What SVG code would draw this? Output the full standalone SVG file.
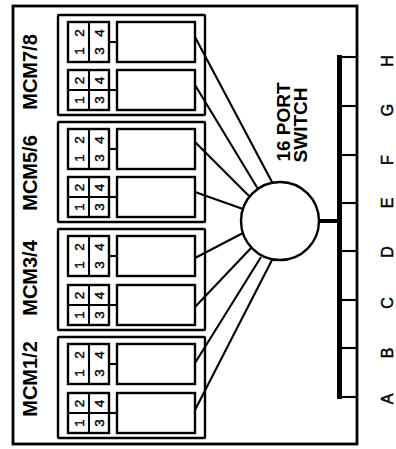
<svg xmlns="http://www.w3.org/2000/svg" width="396" height="449" viewBox="0 0 396 449">
<style>
.f{fill:none;stroke:#000;stroke-width:2.4}
.w{fill:#fff;stroke:#000;stroke-width:2.4}
.l{fill:none;stroke:#000;stroke-width:2.1}
.d{font-family:"Liberation Sans",Arial,sans-serif;font-size:13.5px;text-anchor:middle;fill:#000;stroke:#000;stroke-width:0.4}
.m{font-family:"Liberation Sans",Arial,sans-serif;font-size:20px;font-weight:bold;text-anchor:middle;fill:#000}
.s{font-family:"Liberation Sans",Arial,sans-serif;font-size:19px;font-weight:bold;text-anchor:middle;fill:#000}
.k{font-family:"Liberation Sans",Arial,sans-serif;font-size:16px;text-anchor:middle;fill:#000;stroke:#000;stroke-width:0.5}
</style>
<defs>
<g id="modA">
<rect class="w" x="68" y="0" width="41" height="40"/>
<line class="l" x1="89" y1="0" x2="89" y2="40"/>
<line class="l" x1="109" y1="20" x2="117" y2="20"/>
<rect class="w" x="117" y="0" width="78" height="40"/>
<text class="d" transform="translate(83.5,29) rotate(-90)">1</text>
<text class="d" transform="translate(83.5,11) rotate(-90)">2</text>
<text class="d" transform="translate(104,29) rotate(-90)">3</text>
<text class="d" transform="translate(104,11) rotate(-90)">4</text>
</g>
<g id="modB">
<rect class="w" x="68" y="0" width="41" height="40"/>
<line class="l" x1="89" y1="0" x2="89" y2="40"/>
<line class="l" x1="68" y1="20" x2="109" y2="20"/>
<line class="l" x1="109" y1="20" x2="117" y2="20"/>
<rect class="w" x="117" y="0" width="78" height="40"/>
<text class="d" transform="translate(83.5,30) rotate(-90)">1</text>
<text class="d" transform="translate(83.5,10.5) rotate(-90)">2</text>
<text class="d" transform="translate(104,30) rotate(-90)">3</text>
<text class="d" transform="translate(104,10.5) rotate(-90)">4</text>
</g>
</defs>
<rect x="0" y="0" width="396" height="449" fill="#fff"/>
<rect id="frame" x="13" y="6" width="344" height="438" fill="none" stroke="#000" stroke-width="2.8"/>

<g id="mcm78">
<rect class="f" x="58" y="15" width="147" height="100" rx="1"/>
<use href="#modA" y="22"/>
<use href="#modB" y="70"/>
<text class="m" transform="translate(37,72) rotate(-90)">MCM7/8</text>
</g>
<g id="mcm56">
<rect class="f" x="58" y="122" width="147" height="100" rx="1"/>
<use href="#modA" y="129"/>
<use href="#modB" y="177"/>
<text class="m" transform="translate(37,173) rotate(-90)">MCM5/6</text>
</g>
<g id="mcm34">
<rect class="f" x="58" y="229" width="147" height="101" rx="1"/>
<use href="#modA" y="236"/>
<use href="#modB" y="285"/>
<text class="m" transform="translate(37,278) rotate(-90)">MCM3/4</text>
</g>
<g id="mcm12">
<rect class="f" x="58" y="337" width="147" height="101" rx="1"/>
<use href="#modA" y="344"/>
<use href="#modB" y="393"/>
<text class="m" transform="translate(37,379) rotate(-90)">MCM1/2</text>
</g>

<g id="switch">
<circle class="w" cx="280" cy="221" r="39"/>
<text class="s" transform="translate(290,122) rotate(-90)">16 PORT</text>
<text class="s" transform="translate(307,125) rotate(-90)">SWITCH</text>
</g>

<g id="bus">
<line x1="339.5" y1="55" x2="339.5" y2="399" stroke="#000" stroke-width="5"/>
<g class="l">
<line x1="339" y1="57" x2="357" y2="57"/>
<line x1="339" y1="106" x2="357" y2="106"/>
<line x1="339" y1="155" x2="357" y2="155"/>
<line x1="339" y1="203" x2="357" y2="203"/>
<line x1="339" y1="251" x2="357" y2="251"/>
<line x1="339" y1="300" x2="357" y2="300"/>
<line x1="339" y1="348" x2="357" y2="348"/>
<line x1="339" y1="397" x2="357" y2="397"/>
</g>
<text class="k" transform="translate(393,399) rotate(-90)">A</text>
<text class="k" transform="translate(393,353) rotate(-90)">B</text>
<text class="k" transform="translate(393,303) rotate(-90)">C</text>
<text class="k" transform="translate(393,252) rotate(-90)">D</text>
<text class="k" transform="translate(393,203) rotate(-90)">E</text>
<text class="k" transform="translate(393,160) rotate(-90)">F</text>
<text class="k" transform="translate(393,110) rotate(-90)">G</text>
<text class="k" transform="translate(393,61) rotate(-90)">H</text>
</g>

<g id="connectors" class="l">
<line x1="195" y1="37" x2="272" y2="182"/>
<line x1="195" y1="85" x2="258" y2="189"/>
<line x1="195" y1="142" x2="250" y2="197"/>
<line x1="195" y1="192" x2="243" y2="209"/>
<line x1="195" y1="258" x2="243" y2="233"/>
<line x1="195" y1="307" x2="252" y2="247"/>
<line x1="195" y1="363" x2="261" y2="257"/>
<line x1="195" y1="410" x2="272" y2="260"/>
<line x1="318" y1="221" x2="339" y2="221" stroke-width="4"/>
</g>
</svg>
